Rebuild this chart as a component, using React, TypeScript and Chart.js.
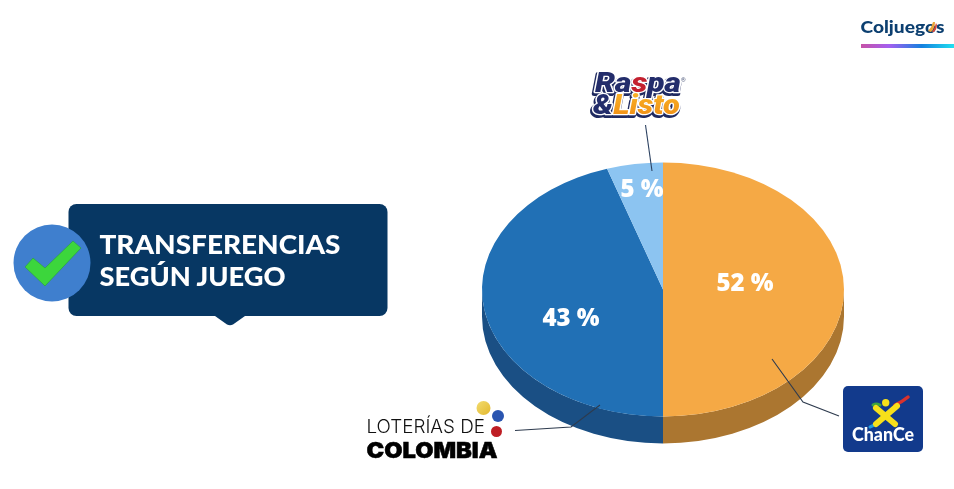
import React, { useEffect, useRef } from "react";
import { Chart, registerables } from "chart.js";

Chart.register(...registerables);

const games = ["Chance", "Loterías de Colombia", "Raspa & Listo"];
// Printed shares, as labelled in the picture.
const shareLabels = ["52 %", "43 %", "5 %"];
// Slice sizes as drawn in the picture (its geometry differs from its printed labels).
const sliceValues = [50, 45, 5];
const sliceColors = ["#F5A945", "#2170B5", "#8CC4F1"];
const wallColors = ["#AB7630", "#1A4F84", "#5E86A6"];

const SQUASH = 127 / 181;
const DEPTH = 27;
const labelAnchors = [
  [0.453, -0.04],
  [-0.508, 0.23],
  [-0.116, -0.785],
];

const pie3d = {
  id: "pie3d",
  beforeDatasetsDraw(chart: any) {
    const { ctx } = chart;
    const arcs = chart.getDatasetMeta(0).data;
    arcs.forEach((arc: any, i: number) => {
      const { x, y, startAngle, endAngle, outerRadius } = arc.getProps(
        ["x", "y", "startAngle", "endAngle", "outerRadius"],
        true
      );
      const full = Math.PI * 2;
      // Only the front half of the rim can be seen.
      for (const shift of [-full, 0, full]) {
        const a = Math.max(startAngle + shift, 0);
        const b = Math.min(endAngle + shift, Math.PI);
        if (b <= a) continue;
        ctx.beginPath();
        ctx.ellipse(x, y + DEPTH, outerRadius, outerRadius * SQUASH, 0, a, b);
        ctx.ellipse(x, y, outerRadius, outerRadius * SQUASH, 0, b, a, true);
        ctx.closePath();
        ctx.fillStyle = wallColors[i];
        ctx.fill();
      }
    });
    const first = arcs[0];
    ctx.save();
    ctx.translate(0, first.y);
    ctx.scale(1, SQUASH);
    ctx.translate(0, -first.y);
  },
  afterDatasetsDraw(chart: any) {
    const { ctx } = chart;
    ctx.restore();
    const arcs = chart.getDatasetMeta(0).data;
    ctx.save();
    ctx.fillStyle = "#ffffff";
    ctx.font = "800 24px 'Open Sans', sans-serif";
    ctx.textAlign = "center";
    ctx.textBaseline = "middle";
    arcs.forEach((arc: any, i: number) => {
      const r = arc.outerRadius;
      ctx.fillText(
        shareLabels[i],
        arc.x + labelAnchors[i][0] * r,
        arc.y + labelAnchors[i][1] * r * SQUASH
      );
    });
    ctx.restore();
  },
};

function Decorations() {
  return (
    <svg
      width={954}
      height={489}
      viewBox="0 0 954 489"
      style={{ position: "absolute", left: 0, top: 0, pointerEvents: "none" }}
    >
      <defs>
        <linearGradient id="brandBar" x1="0" x2="1" y1="0" y2="0">
          <stop offset="0" stopColor="#C652A6" />
          <stop offset="0.3" stopColor="#A45FF0" />
          <stop offset="0.65" stopColor="#1580DF" />
          <stop offset="1" stopColor="#1FE0F0" />
        </linearGradient>
        <linearGradient id="listoFill" x1="0" x2="0" y1="0" y2="1">
          <stop offset="0" stopColor="#FBB62A" />
          <stop offset="1" stopColor="#EE8A12" />
        </linearGradient>
        <linearGradient id="yellowDot" x1="0" x2="1" y1="0" y2="1">
          <stop offset="0" stopColor="#F2DC70" />
          <stop offset="1" stopColor="#E3B82E" />
        </linearGradient>
      </defs>

      {/* Brand */}
      <text x={860.5} y={33} fontFamily="Lato, sans-serif" fontWeight={900} fontSize={17} fill="#0C3F70" textLength={84} lengthAdjust="spacingAndGlyphs">
        Coljuegos
      </text>
      <path d="M 928 31 Q 932 27 933 22 L 935 22 Q 935 28 931 32 Z" fill="#E9A43A" />
      <path d="M 932 32 Q 935 28 936 23 L 937 25 Q 937 29 934 32 Z" fill="#D8453A" />
      <rect x={861} y={44} width={93} height={4} fill="url(#brandBar)" />

      {/* Callout */}
      <rect x={68.5} y={204} width={319} height={112} rx={8} fill="#073763" />
      <path d="M 215 316 L 245 316 L 233 324.5 Q 230 326 227 324.5 Z" fill="#073763" />
      <circle cx={52} cy={263} r={38.5} fill="#3F7FCE" />
      <path
        d="M 25 267 L 45 286 L 81 248 L 73 241 L 45 268 L 33 258 Z"
        fill="#3CD63C"
        stroke="#2A9E3A"
        strokeWidth={0.6}
      />
      <text x={99.5} y={254} fontFamily="Lato, sans-serif" fontWeight={900} fontSize={26} fill="#fff" textLength={241} lengthAdjust="spacingAndGlyphs">
        TRANSFERENCIAS
      </text>
      <text x={99.5} y={285.5} fontFamily="Lato, sans-serif" fontWeight={900} fontSize={26} fill="#fff" textLength={186} lengthAdjust="spacingAndGlyphs">
        SEGÚN JUEGO
      </text>

      {/* Leader lines */}
      <g fill="none" stroke="#2E3B4E" strokeWidth={1.1}>
        <polyline points="645.5,125 652,171" stroke="#2B4060" />
        <polyline points="515,430.5 571,427 600,405" />
        <polyline points="772,359 803,402 839,416" />
      </g>

      {/* Raspa & Listo */}
      <g fontFamily="Roboto, sans-serif" fontWeight={900} fontStyle="italic" fontSize={27} strokeLinejoin="round">
        <g fill="#1F2A60" stroke="#1F2A60" strokeWidth={4} transform="translate(-1 2)">
          <text x={595} y={92} textLength={86} lengthAdjust="spacingAndGlyphs">Raspa</text>
          <text x={593} y={114} textLength={87} lengthAdjust="spacingAndGlyphs">&amp;Listo</text>
        </g>
        <g fill="#fff" stroke="#fff" strokeWidth={2.6}>
          <text x={595} y={92} textLength={86} lengthAdjust="spacingAndGlyphs">Raspa</text>
          <text x={593} y={114} textLength={87} lengthAdjust="spacingAndGlyphs">&amp;Listo</text>
        </g>
        <text x={595} y={92} textLength={86} lengthAdjust="spacingAndGlyphs" fill="#232D6B">
          Ra<tspan fill="#C3202F">s</tspan>pa
        </text>
        <text x={593} y={114} textLength={87} lengthAdjust="spacingAndGlyphs" fill="url(#listoFill)">
          <tspan fill="#232D6B">&amp;</tspan>Listo
        </text>
      </g>
      <text x={681} y={82} fontFamily="Roboto, sans-serif" fontSize={6} fill="#4A5578">®</text>

      {/* Loterías de Colombia */}
      <circle cx={483.5} cy={408} r={7} fill="url(#yellowDot)" />
      <circle cx={498} cy={416} r={6} fill="#2A55B0" />
      <circle cx={496.5} cy={431.5} r={5.5} fill="#BE1E24" />
      <text x={366.5} y={433} fontFamily="Inter, sans-serif" fontWeight={300} fontSize={18} fill="#111" textLength={118.5} lengthAdjust="spacingAndGlyphs">
        LOTERÍAS DE
      </text>
      <text x={366.5} y={458} fontFamily="Inter, sans-serif" fontWeight={900} fontSize={22} fill="#000" stroke="#000" strokeWidth={0.5} textLength={131} lengthAdjust="spacingAndGlyphs">
        COLOMBIA
      </text>

      {/* Chance */}
      <rect x={843} y={386} width={80} height={66} rx={5} fill="#123A8C" />
      <g fill="none" strokeLinecap="round">
        <path d="M 873 405 Q 876 403 880 405" stroke="#3FA23F" strokeWidth={3} />
        <path d="M 895 405 Q 902 402 908 397" stroke="#D8322E" strokeWidth={3.5} />
        <path d="M 870 427 Q 873 426 877 423" stroke="#1F9BE0" strokeWidth={3} />
        <path d="M 876 408 L 895 424" stroke="#F7E01A" strokeWidth={6} />
        <path d="M 897 406 L 876 424" stroke="#F7E01A" strokeWidth={6} />
      </g>
      <circle cx={885.7} cy={402.7} r={3.7} fill="#F7E01A" />
      <text x={852} y={441} fontFamily="Lato, sans-serif" fontWeight={900} fontSize={19} fill="#fff" textLength={62} lengthAdjust="spacingAndGlyphs">
        ChanCe
      </text>
    </svg>
  );
}

export default function App() {
  const ref = useRef<HTMLCanvasElement>(null);
  useEffect(() => {
    const chart = new Chart(ref.current!, {
      type: "pie",
      data: {
        labels: games,
        datasets: [
          {
            data: sliceValues,
            backgroundColor: sliceColors,
            borderWidth: 0,
            clip: false,
          } as any,
        ],
      },
      options: {
        animation: false,
        responsive: false,
        devicePixelRatio: 1,
        layout: { padding: { left: 482, right: 110, top: 108.5, bottom: 18.5 } },
        plugins: { legend: { display: false }, tooltip: { enabled: false } },
      },
      plugins: [pie3d],
    });
    return () => chart.destroy();
  }, []);
  return (
    <div style={{ position: "absolute", left: 0, top: 0, width: 954, height: 489, background: "#fff", overflow: "hidden" }}>
      <canvas ref={ref} width={954} height={489} style={{ position: "absolute", left: 0, top: 0 }} />
      <Decorations />
    </div>
  );
}
